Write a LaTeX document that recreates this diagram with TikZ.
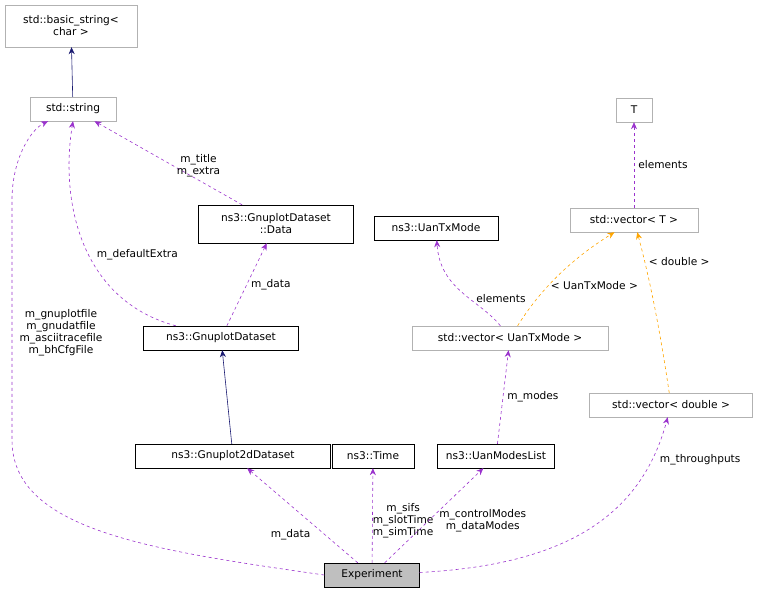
\documentclass[tikz,border=0pt]{standalone}
\usepackage{fontspec}
\setmainfont{DejaVu Sans}
\usetikzlibrary{positioning, arrows.meta}
\definecolor{dep}{HTML}{9A32CD}
\definecolor{inh}{HTML}{191970}
\definecolor{tmpl}{HTML}{FFA500}
\begin{document}
\begin{tikzpicture}[x=1pt,y=-1pt,
        every node/.style={font=\fontsize{10.6}{12}\selectfont,inner sep=0pt,align=center,text=black},
        cls/.style={draw=black,minimum height=24,fill=white},
        ext/.style={draw=gray!60,minimum height=24,fill=white},
        uses/.style={dep,dashed,semithick,-{Stealth[length=7pt,width=6pt]}},
        inherits/.style={inh,semithick,-{Stealth[length=7pt,width=6pt]}},
        inst/.style={tmpl,dashed,semithick,-{Stealth[length=7pt,width=6pt]}}]
        \useasboundingbox (0,0) rectangle (772,595);
        \node[ext, minimum width=132, minimum height=42] (bstr) at (71,26) {std::basic\_string<\\ char >};
        \node[ext, minimum width=86] (str) at (73,109) {std::string};
        \node[cls, minimum width=155, minimum height=38] (data) at (276,224) {ns3::GnuplotDataset\\ ::Data};
        \node[cls, minimum width=155] (gds) at (221,338) {ns3::GnuplotDataset};
        \node[cls, minimum width=195] (g2d) at (233,456) {ns3::Gnuplot2dDataset};
        \node[cls, minimum width=82] (time) at (373,456) {ns3::Time};
        \node[cls, minimum width=117] (modes) at (496,456) {ns3::UanModesList};
        \node[cls, minimum width=124] (txm) at (436,228) {ns3::UanTxMode};
        \node[ext, minimum width=196] (vtx) at (510,338) {std::vector< UanTxMode >};
        \node[ext, minimum width=36] (T) at (634,110) {T};
        \node[ext, minimum width=128] (vT) at (634,220) {std::vector< T >};
        \node[ext, minimum width=163] (vd) at (671,405) {std::vector< double >};
        \node[draw=black, fill=gray!50, minimum width=95, minimum height=24] (exp) at (372,575) {Experiment};

        \draw[inherits] (str) -- (bstr);
        \draw[inherits] (g2d) -- (gds);
        \draw[uses] (data) -- node[pos=0.35, above left=-2pt and -30pt] {m\_title\\m\_extra} (str);
        \draw[uses] (gds) .. controls (80,300) and (60,200) .. node[pos=0.45, right=8pt] {m\_defaultExtra} (str.south);
        \draw[uses] (gds) -- node[right=4pt] {m\_data} (data);
        \draw[uses] (exp) -- node[pos=0.3, left=14pt] {m\_data} (g2d);
        \draw[uses] (exp) -- node[pos=0.45, right=0pt] {m\_sifs\\m\_slotTime\\m\_simTime} (time);
        \draw[uses] (exp) -- node[pos=0.45, right=10pt] {m\_controlModes\\m\_dataModes} (modes);
        \draw[uses] (exp) .. controls (560,565) and (640,520) .. node[pos=0.85, right=8pt] {m\_throughputs} (vd);
        \draw[uses] (exp.west) .. controls (150,550) and (12,530) .. (12,440)
            -- (12,200) .. controls (12,160) and (30,130) .. (str);
        \node (gfiles) at (61,333) {m\_gnuplotfile\\m\_gnudatfile\\m\_asciitracefile\\m\_bhCfgFile};
        \draw[uses] (modes) -- node[right=4pt] {m\_modes} (vtx);
        \draw[uses] (vtx) .. controls (480,300) and (440,290) .. node[pos=0.4, right=6pt] {elements} (txm);
        \draw[uses] (vT) -- node[right=4pt] {elements} (T);
        \draw[inst] (vtx) .. controls (540,290) and (570,260) .. node[pos=0.4, right=2pt] {< UanTxMode >} (vT);
        \draw[inst] (vd) .. controls (660,330) and (650,280) .. node[pos=0.8, right=4pt] {< double >} (vT);
\end{tikzpicture}
\end{document}
